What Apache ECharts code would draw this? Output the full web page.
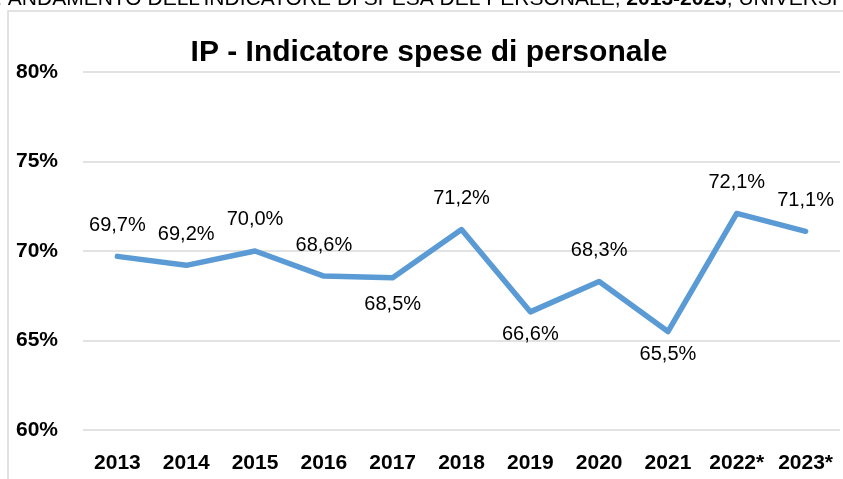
<!DOCTYPE html>
<html>
<head>
<meta charset="utf-8">
<script src="https://cdn.jsdelivr.net/npm/echarts@6/dist/echarts.min.js"></script>
<style>
html,body{margin:0;padding:0;background:#fff;}
#chart{width:843px;height:479px;}
</style>
</head>
<body>
<div id="chart"></div>
<script>
const categories = ['2013','2014','2015','2016','2017','2018','2019','2020','2021','2022*','2023*'];
const ipValues = [69.7, 69.2, 70.0, 68.6, 68.5, 71.2, 66.6, 68.3, 65.5, 72.1, 71.1];
const yTicks = [60, 65, 70, 75, 80];
const chartTitle = 'IP - Indicatore spese di personale';
const pageHeading = 'GRAFICO 1: ANDAMENTO DELL\u2019INDICATORE DI SPESA DEL PERSONALE, ';
const pageHeadingYears = '2013-2023';
const pageHeadingTail = ', UNIVERSITÀ DEGLI STUDI';
const labelsBelow = ['2017', '2019', '2021'];

const fmt = v => v.toFixed(1).replace('.', ',') + '%';

const chart = echarts.init(document.getElementById('chart'), null, {renderer: 'canvas'});
const seriesData = ipValues.map((v, i) => {
  const cat = categories[i];
  const below = labelsBelow.includes(cat);
  return {
    value: v,
    label: {position: below ? 'bottom' : 'top', distance: below ? (cat === '2017' ? 16 : 12) : 20}
  };
});

chart.setOption({
  animation: false,
  backgroundColor: '#ffffff',
  title: {
    text: chartTitle,
    left: 424,
    top: 33,
    textAlign: 'center',
    textStyle: {fontFamily: 'Liberation Sans', fontWeight: 'bold', fontSize: 30, color: '#000'}
  },
  graphic: [
    {
      type: 'rect',
      shape: {x: 8, y: 11, width: 900, height: 600},
      style: {fill: 'none', stroke: '#d9d9d9', lineWidth: 1.5},
      silent: true
    },
    {
      type: 'text',
      x: -117,
      y: 9.5,
      style: {
        text: '{a|' + pageHeading + '}{b|' + pageHeadingYears + '}{a|' + pageHeadingTail + '}',
        verticalAlign: 'bottom',
        rich: {
          a: {fontFamily: 'Liberation Sans', fontSize: 21, fill: '#000', lineHeight: 21},
          b: {fontFamily: 'Liberation Sans', fontSize: 21, fontWeight: 'bold', fill: '#000', lineHeight: 21}
        }
      },
      silent: true
    }
  ],
  grid: {left: 83, right: 3, top: 72, bottom: 49, containLabel: false},
  xAxis: {
    type: 'category',
    data: categories,
    boundaryGap: true,
    axisLine: {show: false},
    axisTick: {show: false},
    axisLabel: {
      margin: 23,
      fontFamily: 'Liberation Sans',
      fontWeight: 'bold',
      fontSize: 21,
      color: '#000',
      interval: 0
    }
  },
  yAxis: {
    type: 'value',
    min: yTicks[0],
    max: yTicks[yTicks.length - 1],
    interval: 5,
    axisLine: {show: false},
    axisTick: {show: false},
    splitLine: {lineStyle: {color: '#d9d9d9', width: 1.5}},
    axisLabel: {
      margin: 25,
      fontFamily: 'Liberation Sans',
      fontWeight: 'bold',
      fontSize: 21,
      color: '#000',
      formatter: v => v + '%'
    }
  },
  series: [{
    type: 'line',
    data: seriesData,
    symbol: 'circle',
    symbolSize: 0.1,
    showSymbol: true,
    lineStyle: {color: '#5B9BD5', width: 5.5, cap: 'round', join: 'round'},
    itemStyle: {color: '#5B9BD5'},
    label: {
      show: true,
      fontFamily: 'Liberation Sans',
      fontSize: 20,
      lineHeight: 22,
      color: '#000',
      formatter: p => fmt(p.value)
    }
  }]
});
</script>
</body>
</html>
